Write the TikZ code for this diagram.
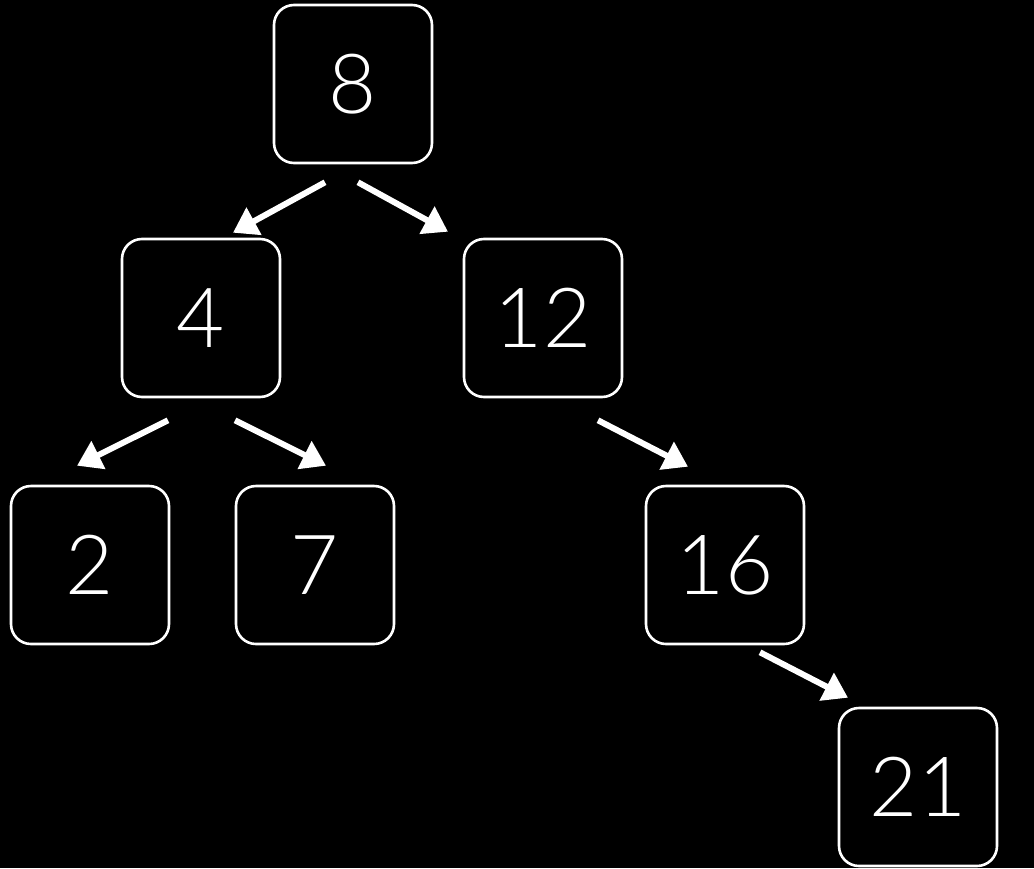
\documentclass[tikz,border=0pt]{standalone}
\usepackage{fontspec}
\setmainfont{Lato}[UprightFont=* Light]
\usetikzlibrary{arrows.meta,calc}
\begin{document}
\begin{tikzpicture}[x=1pt,y=-1pt,
  keybox/.style={draw=white,line width=2.6pt,rounded corners=20pt,fill=black,
    minimum width=158pt,minimum height=158pt,inner sep=0pt,text=white,
    font=\fontsize{83}{88}\selectfont},
  edge/.style={draw=white,line width=6pt,-{Triangle[length=24pt,width=30pt]}}]
\fill[black] (0,0) rectangle (1034,868);
\useasboundingbox (0,0) rectangle (1034,868);
\node[keybox] (n8) at (353,84) {8};
\node[keybox] (n4) at (201,318) {4};
\node[keybox] (n12) at (543,318) {12};
\node[keybox] (n2) at (90,565) {2};
\node[keybox] (n7) at (315,565) {7};
\node[keybox] (n16) at (725,565) {16};
\node[keybox] (n21) at (918,787) {21};
\draw[edge] ($(n8.south)+(-28,18)$) -- ($(n4.north)+(32,-5)$);
\draw[edge] ($(n8.south)+(5,18)$) -- ($(n12.north)+(-95,-6)$);
\draw[edge] ($(n4.south)+(-33,22)$) -- ($(n2.north)+(-13,-19)$);
\draw[edge] ($(n4.south)+(34,22)$) -- ($(n7.north)+(11,-19)$);
\draw[edge] ($(n12.south)+(55,22)$) -- ($(n16.north)+(-37,-18)$);
\draw[edge] ($(n16.south)+(35,7)$) -- ($(n21.north)+(-70,-9)$);
\end{tikzpicture}
\end{document}
